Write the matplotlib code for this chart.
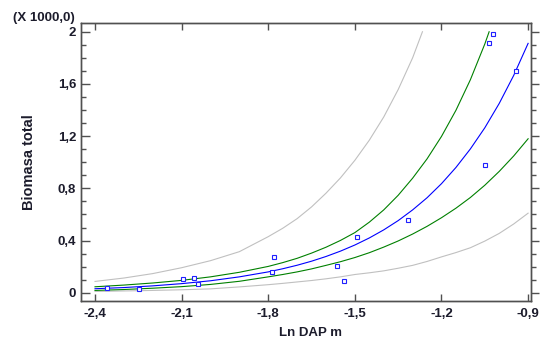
"""Biomasa total vs Ln DAP: ajuste exponencial con bandas de confianza y predicción."""

import matplotlib
matplotlib.use("Agg")
import matplotlib.pyplot as plt
from matplotlib.ticker import FixedLocator, MultipleLocator

plt.rcParams["font.family"] = ["Liberation Sans", "DejaVu Sans"]
plt.rcParams["font.weight"] = "bold"

# observaciones (Ln DAP, biomasa en miles)
obs_x = [-2.357, -2.247, -2.096, -2.056, -2.042, -1.779, -1.786, -1.561, -1.537,
         -1.494, -1.315, -1.048, -1.034, -1.020, -0.942]
obs_y = [0.036, 0.028, 0.107, 0.117, 0.069, 0.274, 0.159, 0.202, 0.094,
         0.424, 0.554, 0.981, 1.913, 1.982, 1.701]

# curvas
x_grid = [-2.4, -2.3, -2.2, -2.1, -2.0, -1.9, -1.8, -1.75, -1.7, -1.65, -1.6,
          -1.55, -1.5, -1.45, -1.4, -1.35, -1.3, -1.25, -1.2, -1.15, -1.1, -1.05,
          -1.0, -0.95, -0.9]
fit_y = [0.031, 0.040, 0.053, 0.070, 0.092, 0.122, 0.160, 0.184, 0.211, 0.242,
         0.278, 0.319, 0.366, 0.420, 0.482, 0.553, 0.635, 0.728, 0.836, 0.960,
         1.102, 1.264, 1.451, 1.665, 1.911]
conf_low = [0.018, 0.025, 0.035, 0.047, 0.064, 0.088, 0.122, 0.140, 0.160, 0.183,
            0.210, 0.238, 0.270, 0.307, 0.350, 0.397, 0.450, 0.509, 0.575, 0.648,
            0.730, 0.824, 0.930, 1.048, 1.180]
pred_low = [0.010, 0.014, 0.018, 0.023, 0.030, 0.045, 0.062, 0.072, 0.083, 0.094,
            0.107, 0.122, 0.140, 0.153, 0.168, 0.188, 0.210, 0.240, 0.275, 0.308,
            0.345, 0.396, 0.455, 0.527, 0.610]

conf_up_x = [-2.4, -2.3, -2.2, -2.1, -2.0, -1.9, -1.8, -1.75, -1.7, -1.65, -1.6,
             -1.55, -1.5, -1.45, -1.4, -1.35, -1.3, -1.25, -1.2, -1.15, -1.1,
             -1.05, -1.035]
conf_up = [0.046, 0.059, 0.075, 0.095, 0.122, 0.157, 0.202, 0.231, 0.264, 0.304,
           0.349, 0.401, 0.461, 0.541, 0.635, 0.747, 0.878, 1.026, 1.198, 1.398,
           1.632, 1.906, 2.0]

pred_up_x = [-2.4, -2.3, -2.2, -2.1, -2.0, -1.9, -1.8, -1.75, -1.7, -1.65, -1.6,
             -1.55, -1.5, -1.45, -1.4, -1.35, -1.3, -1.266]
pred_up = [0.087, 0.113, 0.147, 0.192, 0.246, 0.315, 0.430, 0.494, 0.568, 0.658,
           0.763, 0.880, 1.015, 1.169, 1.347, 1.557, 1.800, 2.0]

x_ticks = [-2.4, -2.1, -1.8, -1.5, -1.2, -0.9]
x_tick_labels = ["-2,4", "-2,1", "-1,8", "-1,5", "-1,2", "-0,9"]
y_ticks = [0, 0.4, 0.8, 1.2, 1.6, 2.0]
y_tick_labels = ["0", "0,4", "0,8", "1,2", "1,6", "2"]

text_color = "#1c1c2c"
spine_color = "#505050"

fig = plt.figure(figsize=(5.41, 3.47), dpi=100)
ax = fig.add_axes([81 / 541, 1 - 301 / 347, 450 / 541, 278 / 347])

ax.plot(x_grid, pred_low, color="#c0c0c0", linewidth=0.8)
ax.plot(pred_up_x, pred_up, color="#c0c0c0", linewidth=0.8)
ax.plot(x_grid, conf_low, color="#008000", linewidth=0.8)
ax.plot(conf_up_x, conf_up, color="#008000", linewidth=0.8)
ax.plot(x_grid, fit_y, color="#0000ff", linewidth=0.8)
ax.plot(obs_x, obs_y, linestyle="none", marker="s", markersize=2.4,
        markerfacecolor="white", markeredgecolor="#2020ff", markeredgewidth=0.8)

ax.set_xlim(-2.4485, -0.89)
ax.set_ylim(-0.063, 2.067)

ax.xaxis.set_major_locator(FixedLocator(x_ticks))
ax.set_xticklabels(x_tick_labels)
ax.yaxis.set_major_locator(FixedLocator(y_ticks))
ax.set_yticklabels(y_tick_labels)
ax.yaxis.set_minor_locator(MultipleLocator(0.1))

ax.tick_params(axis="x", which="major", direction="in", top=True, length=5,
               width=1, color=spine_color, labelsize=9.5, labelcolor=text_color,
               pad=5)
ax.tick_params(axis="y", which="major", direction="in", length=6.5, width=1,
               color=spine_color, labelsize=9.5, labelcolor=text_color, pad=3.5)
ax.tick_params(axis="y", which="minor", direction="in", length=3.6, width=1,
               color=spine_color)

for spine in ax.spines.values():
    spine.set_color(spine_color)
    spine.set_linewidth(1.0)

# eje derecho con marcas hacia fuera
ax2 = ax.twinx()
ax2.set_ylim(ax.get_ylim())
ax2.yaxis.set_major_locator(FixedLocator(y_ticks))
ax2.yaxis.set_minor_locator(MultipleLocator(0.1))
ax2.tick_params(axis="y", which="major", direction="out", length=6, width=1,
                color=spine_color, labelright=False)
ax2.tick_params(axis="y", which="minor", direction="out", length=3.5, width=1,
                color=spine_color)
for spine in ax2.spines.values():
    spine.set_color(spine_color)
    spine.set_linewidth(1.0)

ax.set_xlabel("Ln DAP m", fontsize=9.5, fontweight="bold", color=text_color)
ax.xaxis.set_label_coords(0.511, -0.094)
ax.set_ylabel("Biomasa total", fontsize=10.5, fontweight="bold", color=text_color)
ax.yaxis.set_label_coords(-0.1, 0.5)

fig.text(75 / 541, 1 - 18 / 347, "(X 1000,0)", ha="right", va="center",
         fontsize=9.5, fontweight="bold", color=text_color)

fig.savefig("out.png", dpi=100)
